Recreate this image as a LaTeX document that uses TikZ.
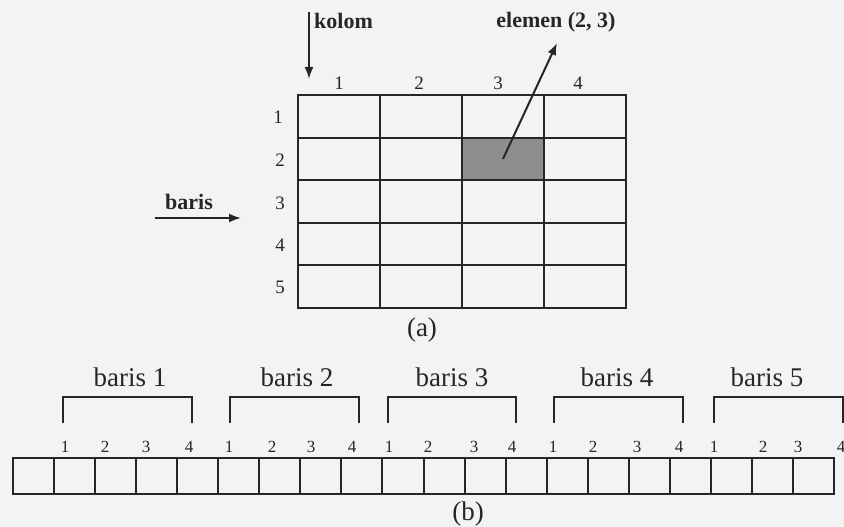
\documentclass[tikz,border=0pt]{standalone}
\usepackage{fontspec}
\setmainfont{Liberation Serif}
\usetikzlibrary{arrows.meta}
\definecolor{ink}{HTML}{262626}
\definecolor{paper}{HTML}{F3F3F3}
\definecolor{shade}{HTML}{8E8E8E}
\tikzset{
  gridcell/.style={draw=ink, line width=2pt, minimum width=82pt, minimum height=42.6pt, inner sep=0pt, outer sep=0pt},
  flatcell/.style={draw=ink, line width=2pt, minimum width=41.05pt, minimum height=36pt, inner sep=0pt, outer sep=0pt},
  toplabel/.style={text=ink, font=\fontsize{22}{22}\selectfont\bfseries, inner sep=0pt},
  idxlabel/.style={text=ink, font=\fontsize{19}{19}\selectfont, inner sep=0pt},
  smallidx/.style={text=ink, font=\fontsize{17}{17}\selectfont, inner sep=0pt},
  biglabel/.style={text=ink, font=\fontsize{27}{27}\selectfont, inner sep=0pt},
  pointer/.style={draw=ink, line width=2pt, -{Latex[length=12pt,width=9pt]}},
  bracket/.style={draw=ink, line width=2.5pt}
}
\begin{document}
\begin{tikzpicture}[x=1pt,y=-1pt]
\fill[paper] (0,0) rectangle (844,527);
\useasboundingbox (0,0) rectangle (844,527);
% grid (a)
\foreach \r in {1,...,5}{
  \foreach \c in {1,...,4}{
    \node[gridcell] (g-\r-\c) at ({298+82*(\c-0.5)},{95+42.6*(\r-0.5)}) {};
  }
}
\node[gridcell, fill=shade] (g-2-3) at ({298+82*2.5},{95+42.6*1.5}) {};
% column indices
\node[idxlabel] (ch1) at (339,83) {1};
\node[idxlabel] (ch2) at (419,83) {2};
\node[idxlabel] (ch3) at (498,83) {3};
\node[idxlabel] (ch4) at (578,83) {4};
% row indices
\node[idxlabel] (rh1) at (278,117) {1};
\node[idxlabel] (rh2) at (280,160) {2};
\node[idxlabel] (rh3) at (280,203) {3};
\node[idxlabel] (rh4) at (280,245) {4};
\node[idxlabel] (rh5) at (280,287) {5};
% labels and arrows
\coordinate (kstart) at (309,12);
\coordinate (kend) at (309,79);
\draw[pointer] (kstart) -- (kend);
\node[toplabel, anchor=west] (kolom) at (314,21) {kolom};
\node[toplabel] (elemen) at (556,22) {elemen (2, 3)};
\coordinate (etip) at (557,43);
\draw[pointer] (g-2-3.center) -- (etip);
\node[toplabel] (baris) at (189,202) {baris};
\coordinate (bstart) at (155,218);
\coordinate (bend) at (241,218);
\draw[pointer] (bstart) -- (bend);
\node[biglabel] (capa) at (422,330) {(a)};
% flat array (b)
\foreach \i in {1,...,20}{
  \node[flatcell] (f-\i) at ({13+41.05*(\i-0.5)},476) {};
}
% indices above flat array
\foreach \x/\t [count=\k] in {65/1,105/2,146/3,189/4,229/1,272/2,311/3,352/4,389/1,428/2,474/3,512/4,553/1,593/2,637/3,679/4,714/1,763/2,798/3,841/4}{
  \node[smallidx] (fi-\k) at (\x,447) {\t};
}
% brackets
\foreach \a/\b/\n [count=\k] in {63/192/1,230/359/2,388/516/3,554/683/4,714/843/5}{
  \coordinate (bl-\k) at (\a,423);
  \coordinate (br-\k) at (\b,423);
  \draw[bracket] (bl-\k) -- (\a,397) -- (\b,397) -- (br-\k);
}
\node[biglabel] (row1) at (130,377) {baris 1};
\node[biglabel] (row2) at (297,377) {baris 2};
\node[biglabel] (row3) at (452,377) {baris 3};
\node[biglabel] (row4) at (617,377) {baris 4};
\node[biglabel] (row5) at (767,377) {baris 5};
\node[biglabel] (capb) at (468,514) {(b)};
\end{tikzpicture}
\end{document}
